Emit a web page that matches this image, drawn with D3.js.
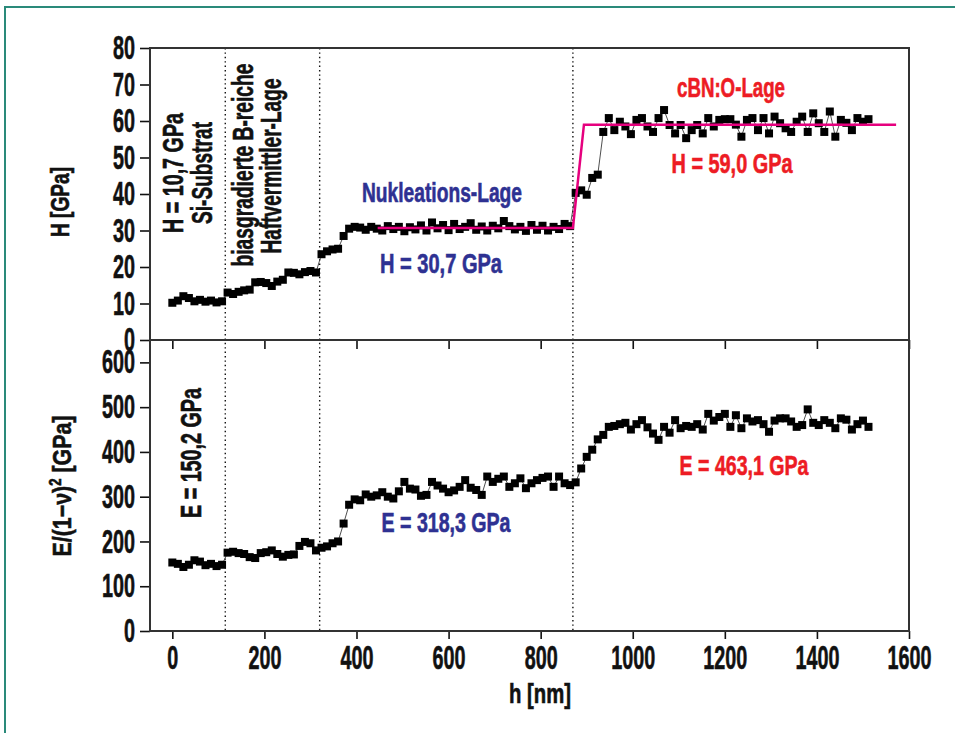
<!DOCTYPE html>
<html>
<head>
<meta charset="utf-8">
<script src="https://cdn.jsdelivr.net/npm/d3@7"></script>
<style>
body { margin: 0; background: #fff; }
svg text { font-family: "Liberation Sans Narrow", "Arial Narrow", "Liberation Sans", sans-serif; font-weight: bold; stroke-width: 0.6px; }
</style>
</head>
<body>
<svg id="chart" width="955" height="733"></svg>
<script>
// depth h [nm]
var depth = [
  0,12,24,36,48,60,72,84,96,108,
  120,132,144,156,168,180,192,204,216,228,
  240,252,264,276,288,300,312,324,336,348,
  360,372,384,396,408,420,432,444,456,468,
  480,492,504,516,528,540,552,564,576,588,
  600,612,624,636,648,660,672,684,696,708,
  720,732,744,756,768,780,792,804,816,828,
  840,852,864,876,888,900,912,924,936,948,
  960,972,984,996,1008,1020,1032,1044,1056,1068,
  1080,1092,1104,1116,1128,1140,1152,1164,1176,1188,
  1200,1212,1224,1236,1248,1260,1272,1284,1296,1308,
  1320,1332,1344,1356,1368,1380,1392,1404,1416,1428,
  1440,1452,1464,1476,1488,1500,1512
];
// H [GPa]
var hardness = [
  10.2,10.8,12.0,11.5,10.6,11.0,10.5,10.8,10.3,10.6,
  13.0,12.6,13.2,13.6,13.8,15.8,15.9,15.6,14.8,16.0,
  16.5,18.5,18.4,18.0,18.6,18.9,18.5,23.5,24.3,24.8,
  25.0,28.5,30.5,31.0,30.8,30.2,31.0,30.5,30.0,31.2,
  30.4,31.0,29.8,30.9,30.3,31.4,30.0,32.2,30.6,31.5,
  30.1,31.8,30.4,31.0,32.0,30.2,31.1,30.0,31.3,30.6,
  32.6,31.2,30.3,31.0,29.9,31.5,30.2,31.3,30.0,31.0,
  30.4,31.8,31.2,40.3,41.0,39.8,44.4,45.3,57.0,60.8,
  57.5,59.8,58.5,56.4,60.3,60.8,58.5,57.0,60.8,63.0,
  58.9,56.6,58.9,55.3,57.5,58.9,56.6,60.8,58.5,60.3,
  60.5,60.5,59.0,55.7,60.3,60.8,57.5,60.8,56.6,61.2,
  59.4,58.0,57.0,59.8,61.2,57.0,62.1,59.4,57.0,62.6,
  55.7,60.3,59.5,57.5,60.8,59.8,60.5
];
// E/(1-v)^2 [GPa]
var modulus = [
  153,150,143,148,158,155,147,150,145,148,
  175,177,174,172,165,163,174,176,180,172,
  166,170,171,190,199,196,180,186,189,196,
  200,240,282,294,292,305,300,303,310,300,
  296,312,333,318,316,302,304,333,325,318,
  310,314,322,337,320,315,304,345,333,340,
  345,322,330,341,319,330,337,342,345,322,
  345,330,326,332,363,389,405,428,438,456,
  458,462,465,450,462,471,455,441,427,456,
  443,471,453,458,456,462,450,485,470,478,
  485,456,482,453,475,468,471,462,445,470,
  475,475,468,456,460,495,465,460,471,465,
  453,475,472,450,462,470,456
];

var hTicks = [0,10,20,30,40,50,60,70,80];
var eTicks = [0,100,200,300,400,500,600];
var xTicks = [0,200,400,600,800,1000,1200,1400,1600];
var layerBounds = [115, 320, 870];
// step fit for H
var fitDepth = [446, 870, 894, 1572];
var fitH = [30.7, 30.7, 59.0, 59.0];

var blue = "#2e3192", red = "#ed1c24", pink = "#e6007e";

var svg = d3.select("#chart");

var x = d3.scaleLinear().domain([-48.5, 1600]).range([150, 909]);
var yH = d3.scaleLinear().domain([0, 80]).range([340, 48]);
var yE = d3.scaleLinear().domain([0, 650]).range([631, 340]);

// outer frame
svg.append("rect")
  .attr("x", 5).attr("y", 7).attr("width", 980).attr("height", 760)
  .attr("fill", "none").attr("stroke", "#2a8a7a").attr("stroke-width", 2);

function styleAxis(g, fs){
  g.select(".domain").remove();
  g.selectAll(".tick line").attr("stroke", "#111").attr("stroke-width", 1.6);
  g.selectAll(".tick text")
    .attr("fill", "#111").attr("stroke", "#111")
    .style("font-size", fs + "px")
    .attr("lengthAdjust", "spacingAndGlyphs")
    .attr("textLength", function(d){ return String(d).length * 11; });
}

var fmt = d3.format("d");

// y axes
svg.append("g").attr("transform", "translate(150,0)")
  .call(d3.axisLeft(yH).tickValues(hTicks).tickFormat(fmt).tickSize(10).tickPadding(5))
  .call(styleAxis, 33);
svg.append("g").attr("transform", "translate(150,0)")
  .call(d3.axisLeft(yE).tickValues(eTicks).tickFormat(fmt).tickSize(10).tickPadding(5))
  .call(styleAxis, 33);

// x axis bottom + inner ticks at top of lower panel
svg.append("g").attr("transform", "translate(0,631)")
  .call(d3.axisBottom(x).tickValues(xTicks).tickFormat(fmt).tickSize(8).tickPadding(7))
  .call(styleAxis, 33);
svg.append("g").attr("transform", "translate(0,340)")
  .call(d3.axisBottom(x).tickValues(xTicks).tickSize(9).tickFormat(""))
  .call(styleAxis, 33);

// layer boundaries
svg.selectAll(".bound")
  .data(layerBounds)
  .enter().append("line")
  .attr("class", "bound")
  .attr("x1", function(d){ return x(d); })
  .attr("x2", function(d){ return x(d); })
  .attr("y1", yH(80)).attr("y2", yE(0))
  .attr("stroke", "#111").attr("stroke-width", 1.4)
  .attr("stroke-dasharray", "1.4,3");

// panel frames
[[yH(80), yH(0)], [yE(650), yE(0)]].forEach(function(p){
  svg.append("rect")
    .attr("x", x(-48.5)).attr("y", p[0])
    .attr("width", x(1600) - x(-48.5)).attr("height", p[1] - p[0])
    .attr("fill", "none").attr("stroke", "#333").attr("stroke-width", 2);
});

var idx = d3.range(depth.length);

function drawSeries(vals, y){
  var line = d3.line()
    .x(function(i){ return x(depth[i]); })
    .y(function(i){ return y(vals[i]); });
  svg.append("path").datum(idx)
    .attr("d", line)
    .attr("fill", "none").attr("stroke", "#222").attr("stroke-width", 0.8);
  svg.append("g").selectAll("rect")
    .data(idx)
    .enter().append("rect")
    .attr("x", function(i){ return x(depth[i]) - 4; })
    .attr("y", function(i){ return y(vals[i]) - 4; })
    .attr("width", 8).attr("height", 8)
    .attr("fill", "#000");
}
drawSeries(hardness, yH);
drawSeries(modulus, yE);

// fit line
svg.append("path")
  .datum(d3.range(fitDepth.length))
  .attr("d", d3.line()
    .x(function(i){ return x(fitDepth[i]); })
    .y(function(i){ return yH(fitH[i]); }))
  .attr("fill", "none").attr("stroke", pink).attr("stroke-width", 2.5);

// texts
function note(txt, cx, cy, color, len, fs, rot){
  var t = svg.append("text")
    .attr("text-anchor", "middle")
    .attr("fill", color).attr("stroke", color)
    .style("font-size", fs + "px")
    .attr("lengthAdjust", "spacingAndGlyphs")
    .attr("textLength", len)
    .text(txt);
  if(rot) t.attr("transform", "translate(" + cx + "," + cy + ") rotate(-90)");
  else t.attr("x", cx).attr("y", cy);
  return t;
}

note("Nukleations-Lage", 442, 202, blue, 160, 27);
note("H = 30,7 GPa", 441, 273, blue, 122, 27);
note("cBN:O-Lage", 731, 97, red, 108, 27);
note("H = 59,0 GPa", 732, 173, red, 121, 27);
note("E = 318,3 GPa", 446, 532, blue, 129, 27);
note("E = 463,1 GPa", 744, 475, red, 129, 27);

note("H = 10,7 GPa", 183, 173, "#111", 120, 29, true);
note("Si-Substrat", 212, 173, "#111", 102, 29, true);
note("biasgradierte B-reiche", 253, 165, "#111", 203, 29, true);
note("Haftvermittler-Lage", 281, 166, "#111", 175, 29, true);
note("E = 150,2 GPa", 201, 453, "#111", 130, 29, true);

note("H [GPa]", 69, 202, "#111", 70, 26, true);
note("h [nm]", 540, 703, "#111", 62, 27);

var eLab = svg.append("text")
  .attr("text-anchor", "middle")
  .attr("fill", "#111").attr("stroke", "#111")
  .style("font-size", "26px")
  .attr("lengthAdjust", "spacingAndGlyphs")
  .attr("textLength", 141)
  .attr("transform", "translate(71,486) rotate(-90)");
eLab.append("tspan").text("E/(1\u2212\u03bd)");
eLab.append("tspan").attr("dy", -10).style("font-size", "16px").text("2");
eLab.append("tspan").attr("dy", 10).text(" [GPa]");
</script>
</body>
</html>
